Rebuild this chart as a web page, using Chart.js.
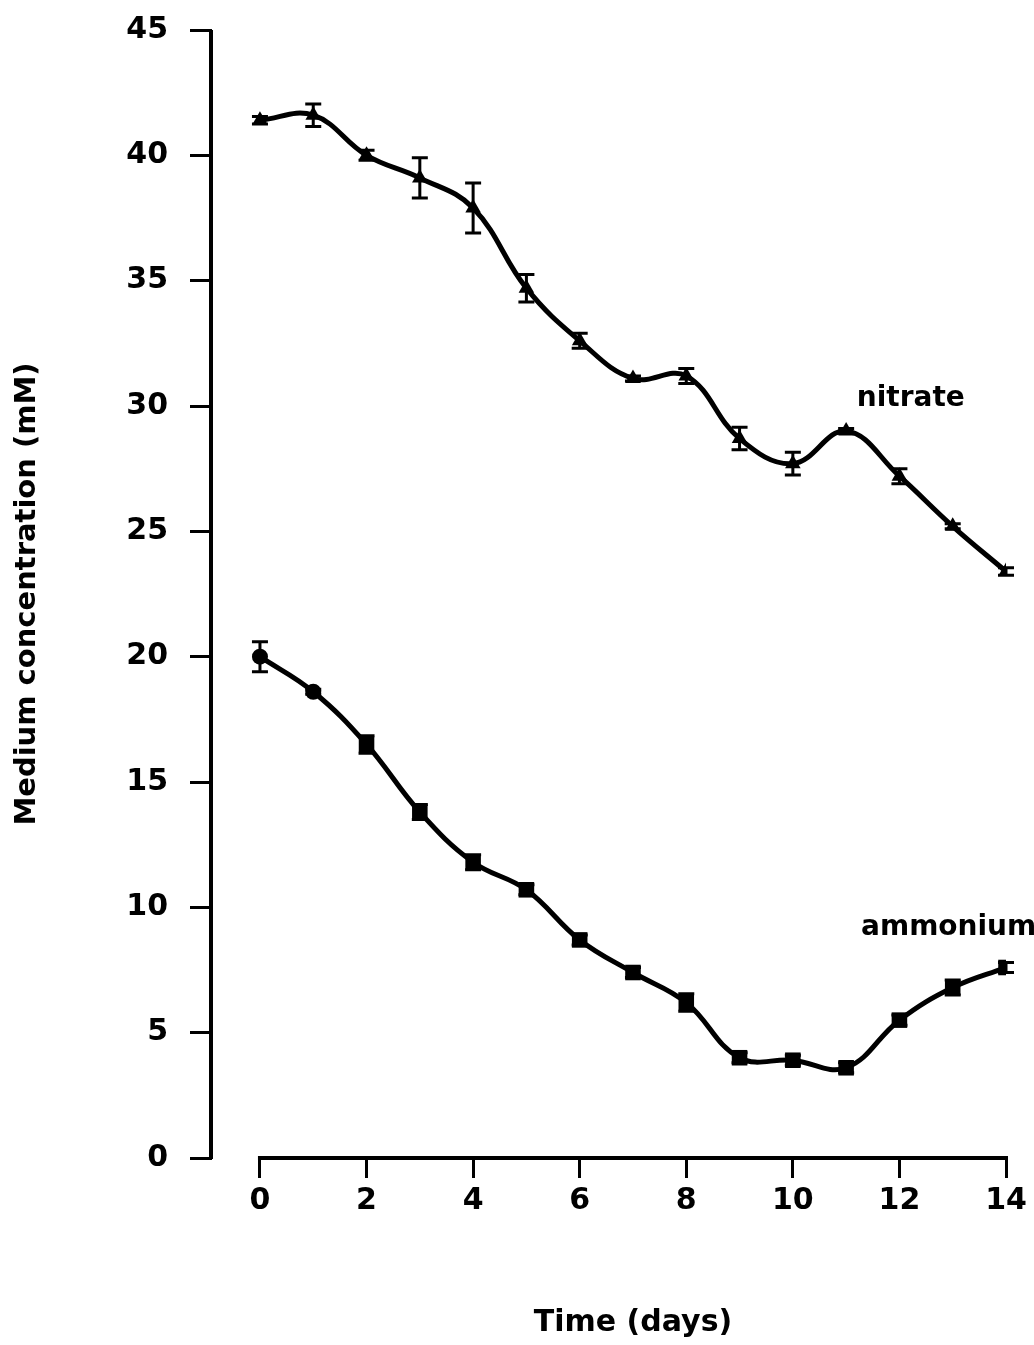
<!DOCTYPE html>
<html lang="en">
<head>
<meta charset="UTF-8">
<title>Medium concentration over time</title>
<script src="https://cdn.jsdelivr.net/npm/chart.js@4.4.1/dist/chart.umd.min.js"></script>
<style>
  html, body { margin: 0; padding: 0; background: #fff; }
  #wrap { width: 1034px; height: 1345px; }
</style>
</head>
<body>
<div id="wrap"><canvas id="chart" width="1034" height="1345"></canvas></div>
<script>
// days sampled
const days = [0, 1, 2, 3, 4, 5, 6, 7, 8, 9, 10, 11, 12, 13, 14];
// nitrate in medium (mM) and its error bars
const nitrate    = [41.4, 41.6, 40.0, 39.1, 37.9, 34.7, 32.6, 31.1, 31.2, 28.7, 27.7, 29.0, 27.2, 25.2, 23.4];
const nitrateErr = [0.15, 0.45, 0.2, 0.8, 1.0, 0.55, 0.3, 0.1, 0.3, 0.45, 0.45, 0.1, 0.3, 0.1, 0.15];
// ammonium in medium (mM) and its error bars
const ammonium    = [20.0, 18.6, 16.5, 13.8, 11.8, 10.7, 8.7, 7.4, 6.2, 4.0, 3.9, 3.6, 5.5, 6.8, 7.6];
const ammoniumErr = [0.6, 0.1, 0.35, 0.3, 0.3, 0.2, 0.2, 0.2, 0.35, 0.2, 0.2, 0.2, 0.2, 0.3, 0.2];
const ammoniumShape = ['circle', 'circle', 'rect', 'rect', 'rect', 'rect', 'rect', 'rect', 'rect', 'rect', 'rect', 'rect', 'rect', 'rect', 'rect'];
const xTicks = [0, 2, 4, 6, 8, 10, 12, 14];

const FONT = '"DejaVu Sans", Verdana, sans-serif';

const toPts = (ys) => days.map((d, i) => ({x: d, y: ys[i]}));

// axis lines, error bars, series names and x title
const extras = {
  id: 'extras',
  afterDatasetsDraw(chart) {
    const {ctx, scales: {x, y}, chartArea} = chart;
    ctx.save();
    ctx.strokeStyle = '#000';
    ctx.lineCap = 'butt';

    // error bars
    ctx.lineWidth = 3;
    const bars = [[nitrate, nitrateErr], [ammonium, ammoniumErr]];
    bars.forEach(([vals, errs]) => {
      days.forEach((d, i) => {
        const px = x.getPixelForValue(d);
        const top = y.getPixelForValue(vals[i] + errs[i]);
        const bot = y.getPixelForValue(vals[i] - errs[i]);
        ctx.beginPath();
        ctx.moveTo(px, top); ctx.lineTo(px, bot);
        ctx.moveTo(px - 8, top); ctx.lineTo(px + 8, top);
        ctx.moveTo(px - 8, bot); ctx.lineTo(px + 8, bot);
        ctx.stroke();
      });
    });

    // axis lines
    ctx.lineWidth = 4;
    ctx.beginPath();
    ctx.moveTo(chartArea.left - 1, chartArea.top);
    ctx.lineTo(chartArea.left - 1, chartArea.bottom + 1);
    ctx.moveTo(x.getPixelForValue(0) - 2, chartArea.bottom);
    ctx.lineTo(x.getPixelForValue(14) + 2, chartArea.bottom);
    ctx.stroke();

    // series names
    ctx.fillStyle = '#000';
    ctx.font = 'bold 28px ' + FONT;
    ctx.textAlign = 'left';
    ctx.textBaseline = 'middle';
    ctx.fillText('nitrate', x.getPixelForValue(11.2), y.getPixelForValue(30.3));
    ctx.fillText('ammonium', x.getPixelForValue(11.28), y.getPixelForValue(9.2));

    // x axis title
    ctx.font = 'bold 30px ' + FONT;
    ctx.textAlign = 'center';
    ctx.fillText('Time (days)', x.getPixelForValue(7), 1323);
    ctx.restore();
  }
};

new Chart(document.getElementById('chart'), {
  type: 'line',
  data: {
    datasets: [
      {
        label: 'nitrate',
        data: toPts(nitrate),
        borderColor: '#000',
        backgroundColor: '#000',
        borderWidth: 5,
        tension: 0.4,
        pointStyle: 'triangle',
        pointRadius: 9,
        pointBorderWidth: 0
      },
      {
        label: 'ammonium',
        data: toPts(ammonium),
        borderColor: '#000',
        backgroundColor: '#000',
        borderWidth: 5,
        tension: 0.4,
        pointStyle: ammoniumShape,
        pointRadius: (c) => ammoniumShape[c.dataIndex] === 'rect' ? 11 : 8,
        pointBorderWidth: 0
      }
    ]
  },
  options: {
    responsive: false,
    animation: false,
    layout: { padding: { left: 0, right: 28, top: 30, bottom: 0 } },
    plugins: { legend: { display: false }, tooltip: { enabled: false } },
    scales: {
      x: {
        type: 'linear',
        min: -0.9,
        max: 14,
        afterBuildTicks(scale) { scale.ticks = xTicks.map(v => ({value: v})); },
        afterFit(scale) { scale.height = 187; },
        border: { display: false },
        grid: { drawOnChartArea: false, tickLength: 20, tickWidth: 3, color: '#000' },
        ticks: { color: '#000', padding: 5, maxRotation: 0, font: { family: FONT, size: 30, weight: 'bold' } }
      },
      y: {
        min: 0,
        max: 45,
        afterFit(scale) {
          scale.width = 212;
          scale.paddingTop = 0;
          scale.paddingBottom = 0;
        },
        border: { display: false },
        grid: { drawOnChartArea: false, tickLength: 22, tickWidth: 3, color: '#000' },
        ticks: { stepSize: 5, color: '#000', padding: 22, font: { family: FONT, size: 30, weight: 'bold' } },
        title: {
          display: true,
          text: 'Medium concentration (mM)',
          color: '#000',
          padding: { top: 10, bottom: 0 },
          font: { family: FONT, size: 29, weight: 'bold' }
        }
      }
    }
  },
  plugins: [extras]
});
</script>
</body>
</html>
